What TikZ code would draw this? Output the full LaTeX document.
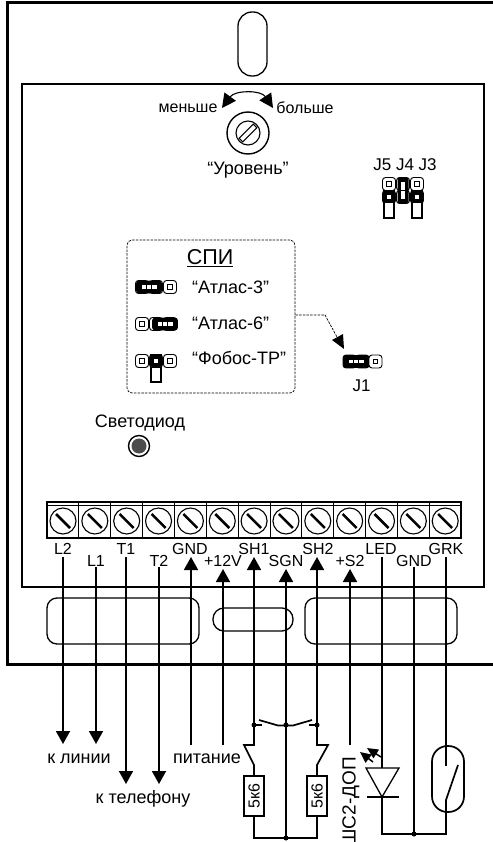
\documentclass[tikz,border=0pt]{standalone}
\usepackage{fontspec}
\setmainfont{Liberation Sans}
\usetikzlibrary{arrows.meta}

\tikzset{
  txt/.style={inner sep=0pt, font=\fontsize{18}{20}\selectfont},
  lbl/.style={inner sep=0pt, font=\fontsize{16}{18}\selectfont},
  wire/.style={line width=1.7pt},
  bigtip/.style={-{Triangle[length=13pt,width=14pt]}},
  slot/.style={line width=1.3pt, rounded corners=10pt},
  leader/.style={line width=0.7pt, dash pattern=on 2.5pt off 1.2pt},
  padpin/.pic={
    \draw[line width=0.9pt, fill=white, rounded corners=3pt] (-6.5,-6.5) rectangle (6.5,6.5);
    \draw[line width=0.9pt] (-2.2,-2.2) rectangle (2.2,2.2);
  },
  shunth/.pic={
    \draw[line width=0.6pt, fill=black, rounded corners=2.5pt] (-12.5,-6) rectangle (12.5,6);
    \fill[white] (-7.5,-1.8) rectangle (7.5,1.8);
    \draw[black, line width=0.6pt] (-2.5,-1.8) -- (-2.5,1.8) (2.5,-1.8) -- (2.5,1.8);
  },
  shuntv/.pic={
    \fill[black, rounded corners=2pt] (-5.5,-6.5) rectangle (5.5,19.5);
    \fill[white] (-1.8,-2) rectangle (1.8,15);
    \draw[black, line width=0.6pt] (-1.8,6.5) -- (1.8,6.5);
  },
  shunthang/.pic={
    \draw[line width=1.5pt, fill=white] (-5,-6.5) rectangle (5,21);
    \fill[black] (-5,-6.5) rectangle (5,6.5);
    \fill[white] (-1.8,-1.8) rectangle (1.8,1.8);
  },
  screw/.pic={
    \draw[line width=1.1pt] (0,0) circle (13);
    \draw[line width=2.5pt] (-7,-7) -- (7,7);
  }
}

\begin{document}
\begin{tikzpicture}[x=1pt, y=-1pt]
  \useasboundingbox (0,0) rectangle (492,842);
  % case
  \draw[line width=3pt] (500,3) -- (7,3) -- (7,664) -- (500,664);
  \draw[line width=2pt] (22,84) rectangle (484,587);
  \draw[slot, rounded corners=14pt] (238,12) rectangle (267,76);
  \draw[slot] (47,598) rectangle (199,644);
  \draw[slot] (305,598) rectangle (457,644);
  \draw[slot, rounded corners=11pt] (213,608) rectangle (293,631);

  % level regulator
  \draw[line width=1.1pt, {Triangle[length=14pt,width=14pt]}-{Triangle[length=14pt,width=14pt]}] (222,108) .. controls (235,90) and (261,90) .. (273,108);
  \draw[line width=1.4pt] (248,133) circle (21);
  \draw[line width=1.1pt] (248,133) circle (12);
  \draw[line width=1.1pt, fill=white, rotate around={45:(248,133)}] (238,130.5) rectangle (258,135.5);
  \node[lbl] (less) at (188,108) {меньше};
  \node[lbl] (more) at (305,108) {больше};
  \node[txt] (level) at (248,170) {“Уровень”};

  % jumpers J5 J4 J3
  \node[lbl, font=\fontsize{17}{19}\selectfont] (jtop) at (405,165) {J5 J4 J3};
  \foreach \x in {389,403,417} {
    \pic at (\x,184) {padpin};
    \pic at (\x,197) {padpin};
  }
  \pic at (389,197) {shunthang};
  \pic at (417,197) {shunthang};
  \pic at (403,184) {shuntv};

  % SPI box
  \node[draw, leader, rounded corners=5pt, minimum width=168pt, minimum height=153pt, inner sep=0pt] (spi) at (211,316.5) {};
  \node[txt, font=\fontsize{21.5}{24}\selectfont] (spititle) at (210,258) {\underline{СПИ}};
  \node[txt, anchor=west] (atl3) at (192,287) {“Атлас-3”};
  \node[txt, anchor=west] (atl6) at (192,323) {“Атлас-6”};
  \node[txt, anchor=west] (fobos) at (192,358) {“Фобос-ТР”};
  \foreach \y in {287,324,361} {
    \foreach \x in {142,156,170} {
      \pic at (\x,\y) {padpin};
    }
  }
  \pic at (149,287) {shunth};
  \pic at (165,324) {shunth};
  \pic at (156,361) {shunthang};

  % J1
  \foreach \x in {349.5,362.5,375.5} {
    \pic at (\x,361.5) {padpin};
  }
  \pic at (356,361.5) {shunth};
  \node[lbl, font=\fontsize{17}{19}\selectfont] (jone) at (361.5,386) {J1};
  \coordinate (jtip) at (344,349);
  \coordinate (jbend) at (325,315);
  \draw[leader] (spi.east |- jbend) -- (jbend) -- (337,337);
  \fill[black] (jtip) -- (332,340) -- (343,334) -- cycle;

  % LED indicator
  \node[txt] (ledtxt) at (140,423) {Светодиод};
  \draw[line width=1.4pt, fill=white] (139,446) circle (10.5);
  \fill[black!70] (139,446) circle (7.5);

  % terminal block
  \draw[line width=1.1pt] (47,502) rectangle (461,538);
  \draw[line width=0.8pt] (47,505) -- (461,505);
  \foreach \i in {1,...,12} {
    \draw[line width=0.8pt] ({47+\i*31.85},502) -- ({47+\i*31.85},538);
  }
  \foreach \i in {0,...,12} {
    \pic at ({63+\i*31.85},521) {screw};
  }

  % terminal names
  \foreach \n/\lab/\x/\y in {a/L2/63/549, b/L1/96/561, c/T1/126/549, d/T2/159/561, e/GND/190/549, f/+12V/223/561, g/SH1/254/549, h/SGN/286/561, i/SH2/318/549, j/+S2/350/561, k/LED/381/549, l/GND/414/561, m/GRK/446/549} {
    \node[lbl] (\n) at (\x,\y) {\lab};
  }

  % wires going out
  \coordinate (sa) at (63,557);
  \coordinate (sb) at (96,567);
  \coordinate (sc) at (126,557);
  \coordinate (sd) at (159,567);
  \coordinate (ea) at (63,744);
  \coordinate (eb) at (96,744);
  \coordinate (ec) at (126,784);
  \coordinate (ed) at (159,784);
  \draw[wire, bigtip] (sa) -- (ea);
  \draw[wire, bigtip] (sb) -- (eb);
  \draw[wire, bigtip] (sc) -- (ec);
  \draw[wire, bigtip] (sd) -- (ed);
  \node[txt] (line) at (79,759) {к линии};
  \node[txt] (phone) at (143,799) {к телефону};
  \node[txt] (power) at (207,759) {питание};

  \coordinate (pa) at (191,745);
  \coordinate (pb) at (223,745);
  \coordinate (ta) at (191,557);
  \coordinate (tb) at (223,569);
  \draw[wire, bigtip] (pa) -- (ta);
  \draw[wire, bigtip] (pb) -- (tb);

  % loop with sensors
  \coordinate (sl) at (254,725);
  \coordinate (sr) at (317,725);
  \coordinate (sm) at (286,725);
  \coordinate (bl) at (254,838);
  \coordinate (br) at (317,838);
  \coordinate (bm) at (286,838);
  \draw[wire, bigtip] (sl) -- (254,557);
  \draw[wire, bigtip] (bm) -- (286,569);
  \draw[wire, bigtip] (sr) -- (317,557);
  \draw[wire] (sl) -- ++(8,0) (sr) -- ++(-8,0);
  \draw[wire] (259,720) -- (278,725.5) -- (293,725.5) -- (312,720);
  \fill (sl) circle (2.5) (sr) circle (2.5) (sm) circle (2.5) (bm) circle (2.5);
  \node[draw, line width=1.2pt, minimum width=20pt, minimum height=40pt, inner sep=0pt] (rl) at (254,796) {};
  \node[draw, line width=1.2pt, minimum width=20pt, minimum height=40pt, inner sep=0pt] (rr) at (317,796) {};
  \node[lbl, rotate=90] (rltxt) at (rl) {5к6};
  \node[lbl, rotate=90] (rrtxt) at (rr) {5к6};
  \draw[wire] (sl) -- (254,745) -- (244,745) -- (254,765) -- (rl.north);
  \draw[wire] (sr) -- (317,745) -- (328,745) -- (317,765) -- (rr.north);
  \draw[wire] (rl.south) -- (bl) -- (br) -- (rr.south);

  % extra loop
  \draw[wire, bigtip] (350,745) -- (350,569);
  \node[txt, font=\fontsize{19}{21}\selectfont, rotate=90, anchor=east] (shc) at (351,757) {ШС2-ДОП};

  % LED
  \coordinate (dtop) at (382,768);
  \coordinate (dbot) at (382,797);
  \draw[wire] (382,557) -- (dtop);
  \draw[line width=1.3pt, fill=white] (366,768) -- (399,768) -- (dbot) -- cycle;
  \draw[line width=1.3pt] (367,797) -- (399,797);
  \draw[wire] (dbot) -- (382,834) -- (446,834) -- (446,800);
  \draw[line width=1.5pt, -{Triangle[length=11pt,width=10pt]}] (373,762) -- (360,752);
  \draw[line width=1.5pt, -{Triangle[length=11pt,width=10pt]}] (381,757) -- (367,748);
  \draw[wire] (414,567) -- (414,834);
  \fill (414,834) circle (2.5);

  % reed switch
  \draw[wire, rounded corners=15.5pt] (432,746) rectangle (464,812);
  \draw[wire] (446,557) -- (446,766);
  \draw[wire] (446,800) -- (458,765);
\end{tikzpicture}
\end{document}
